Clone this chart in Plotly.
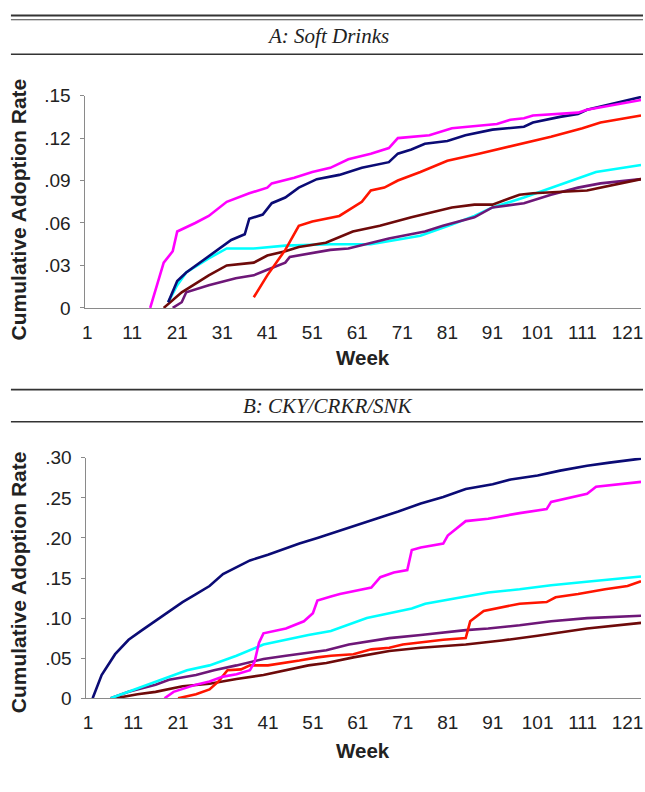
import plotly.graph_objects as go

# ---------------- Panel A: Soft Drinks ----------------
a_navy_w = [19, 21, 23, 26, 30, 33, 36, 37, 40, 42, 45, 48, 52, 57, 62, 68, 70, 73, 76, 81, 85, 91, 98, 100, 106, 110, 112, 119, 124]
a_navy_v = [0.004, 0.019, 0.025, 0.032, 0.041, 0.048, 0.052, 0.063, 0.066, 0.074, 0.078, 0.085, 0.091, 0.094, 0.099, 0.103, 0.109, 0.112, 0.116, 0.118, 0.122, 0.126, 0.128, 0.131, 0.135, 0.137, 0.140, 0.145, 0.149]

a_magenta_w = [15, 18, 20, 21, 25, 28, 32, 37, 41, 42, 47, 51, 55, 59, 64, 68, 70, 77, 82, 88, 92, 95, 98, 100, 110, 112, 119, 124]
a_magenta_v = [0.0, 0.032, 0.040, 0.054, 0.060, 0.065, 0.075, 0.081, 0.085, 0.088, 0.092, 0.096, 0.099, 0.105, 0.109, 0.113, 0.120, 0.122, 0.127, 0.129, 0.130, 0.133, 0.134, 0.136, 0.138, 0.140, 0.144, 0.147]

a_red_w = [38, 41, 45, 48, 51, 55, 57, 62, 64, 67, 70, 75, 81, 88, 97, 104, 111, 115, 124]
a_red_v = [0.0075, 0.023, 0.041, 0.058, 0.061, 0.064, 0.065, 0.075, 0.083, 0.085, 0.090, 0.096, 0.104, 0.109, 0.116, 0.121, 0.127, 0.131, 0.136]

a_cyan_w = [19, 21, 23, 28, 32, 38, 45, 55, 64, 75, 82, 87, 91, 98, 106, 114, 124]
a_cyan_v = [0.004, 0.016, 0.025, 0.035, 0.042, 0.042, 0.044, 0.045, 0.045, 0.051, 0.059, 0.065, 0.071, 0.078, 0.087, 0.096, 0.101]

a_maroon_w = [18, 22, 25, 28, 32, 37, 38, 41, 45, 48, 54, 60, 66, 73, 82, 87, 91, 97, 100, 112, 124]
a_maroon_v = [0.0, 0.011, 0.017, 0.023, 0.030, 0.032, 0.032, 0.037, 0.040, 0.043, 0.046, 0.054, 0.058, 0.064, 0.071, 0.073, 0.073, 0.080, 0.081, 0.083, 0.091]

a_purple_w = [20, 22, 23, 28, 34, 38, 41, 45, 46, 48, 55, 59, 68, 76, 80, 87, 91, 98, 104, 110, 115, 124]
a_purple_v = [0.0, 0.004, 0.011, 0.016, 0.021, 0.023, 0.027, 0.032, 0.036, 0.037, 0.041, 0.042, 0.049, 0.054, 0.058, 0.064, 0.071, 0.074, 0.080, 0.085, 0.088, 0.091]

# ---------------- Panel B: CKY/CRKR/SNK ----------------
b_navy_w = [2, 4, 7, 10, 13, 16, 19, 22, 25, 28, 31, 34, 37, 41, 45, 48, 52, 57, 60, 65, 70, 75, 80, 85, 91, 95, 101, 106, 112, 117, 124]
b_navy_v = [0.0, 0.029, 0.055, 0.073, 0.085, 0.097, 0.109, 0.120, 0.130, 0.140, 0.155, 0.164, 0.172, 0.179, 0.187, 0.193, 0.200, 0.209, 0.215, 0.224, 0.233, 0.243, 0.251, 0.261, 0.267, 0.273, 0.278, 0.284, 0.290, 0.294, 0.299]

b_magenta_w = [18, 20, 25, 28, 31, 34, 37, 38, 39, 40, 45, 49, 51, 52, 55, 57, 64, 66, 69, 72, 73, 75, 80, 81, 85, 90, 97, 103, 104, 109, 112, 114, 124]
b_magenta_v = [0.0, 0.008, 0.017, 0.021, 0.027, 0.030, 0.035, 0.045, 0.069, 0.081, 0.087, 0.096, 0.106, 0.122, 0.127, 0.130, 0.138, 0.151, 0.157, 0.160, 0.185, 0.188, 0.193, 0.203, 0.221, 0.224, 0.231, 0.236, 0.245, 0.251, 0.255, 0.264, 0.270]

b_cyan_w = [6, 12, 18, 23, 28, 34, 40, 45, 50, 55, 57, 63, 68, 73, 76, 82, 90, 97, 104, 113, 124]
b_cyan_v = [0.0, 0.012, 0.024, 0.035, 0.041, 0.053, 0.067, 0.073, 0.079, 0.084, 0.088, 0.100, 0.106, 0.112, 0.118, 0.124, 0.132, 0.136, 0.141, 0.146, 0.152]

b_red_w = [21, 25, 28, 30, 32, 35, 37, 41, 48, 52, 55, 60, 64, 68, 71, 78, 80, 85, 86, 89, 97, 103, 105, 110, 116, 121, 124]
b_red_v = [0.0, 0.005, 0.011, 0.021, 0.035, 0.036, 0.041, 0.041, 0.047, 0.051, 0.053, 0.055, 0.061, 0.063, 0.067, 0.072, 0.073, 0.075, 0.096, 0.109, 0.118, 0.120, 0.126, 0.130, 0.136, 0.140, 0.146]

b_purple_w = [6, 10, 16, 19, 25, 29, 34, 40, 45, 50, 54, 59, 68, 75, 85, 90, 97, 104, 112, 124]
b_purple_v = [0.0, 0.008, 0.017, 0.023, 0.029, 0.035, 0.041, 0.049, 0.053, 0.057, 0.060, 0.067, 0.075, 0.079, 0.085, 0.087, 0.091, 0.096, 0.100, 0.103]

b_maroon_w = [7, 12, 16, 22, 28, 34, 40, 45, 50, 54, 60, 68, 75, 85, 93, 101, 108, 112, 124]
b_maroon_v = [0.0, 0.005, 0.008, 0.015, 0.018, 0.024, 0.029, 0.035, 0.041, 0.044, 0.051, 0.059, 0.063, 0.067, 0.072, 0.078, 0.084, 0.087, 0.094]

x_tickvals = [1, 11, 21, 31, 41, 51, 61, 71, 81, 91, 101, 111, 121]
a_tickvals = [0, 0.03, 0.06, 0.09, 0.12, 0.15]
a_ticktext = ["0", ".03", ".06", ".09", ".12", ".15"]
b_tickvals = [0, 0.05, 0.10, 0.15, 0.20, 0.25, 0.30]
b_ticktext = ["0", ".05", ".10", ".15", ".20", ".25", ".30"]

title_a = "A: Soft Drinks"
title_b = "B: CKY/CRKR/SNK"
y_title = "Cumulative Adoption Rate"
x_title = "Week"

colors = {
    "navy": "#0B0B75",
    "magenta": "#FF00FF",
    "red": "#FF1500",
    "cyan": "#00FFFF",
    "maroon": "#6E0A0A",
    "purple": "#6E1778",
}

W, H = 645, 792

def px_x(x):
    return x / W

def px_y(y):
    return 1 - y / H

fig = go.Figure()

panel_a = [
    ("cyan", a_cyan_w, a_cyan_v),
    ("purple", a_purple_w, a_purple_v),
    ("maroon", a_maroon_w, a_maroon_v),
    ("red", a_red_w, a_red_v),
    ("navy", a_navy_w, a_navy_v),
    ("magenta", a_magenta_w, a_magenta_v),
]
panel_b = [
    ("maroon", b_maroon_w, b_maroon_v),
    ("purple", b_purple_w, b_purple_v),
    ("red", b_red_w, b_red_v),
    ("cyan", b_cyan_w, b_cyan_v),
    ("magenta", b_magenta_w, b_magenta_v),
    ("navy", b_navy_w, b_navy_v),
]

for name, w, v in panel_a:
    fig.add_trace(go.Scatter(x=w, y=v, mode="lines", line=dict(color=colors[name], width=2.6),
                             xaxis="x", yaxis="y", showlegend=False, hoverinfo="skip"))
for name, w, v in panel_b:
    fig.add_trace(go.Scatter(x=w, y=v, mode="lines", line=dict(color=colors[name], width=2.6),
                             xaxis="x2", yaxis="y2", showlegend=False, hoverinfo="skip"))

tick_font = dict(family="Liberation Sans, Arial, sans-serif", size=19, color="#222")
axis_common = dict(showgrid=False, zeroline=False, showline=True, linecolor="#8a8a8a", linewidth=1,
                   tickfont=tick_font, ticklabeloverflow="allow")

fig.update_layout(
    width=W, height=H,
    margin=dict(l=0, r=0, t=0, b=0),
    paper_bgcolor="white", plot_bgcolor="white",
    xaxis=dict(domain=[px_x(83), px_x(643)], range=[0.6, 124], anchor="y",
               tickvals=x_tickvals, ticks="", ticklabelstandoff=7, **axis_common),
    yaxis=dict(domain=[px_y(306), px_y(88)], range=[0, 0.15], anchor="x",
               tickvals=a_tickvals, ticktext=a_ticktext, ticks="outside", ticklen=4,
               tickcolor="#8a8a8a", ticklabelstandoff=6, **axis_common),
    xaxis2=dict(domain=[px_x(84), px_x(643)], range=[0.6, 124], anchor="y2",
                tickvals=x_tickvals, ticks="", ticklabelstandoff=7, **axis_common),
    yaxis2=dict(domain=[px_y(707), px_y(460)], range=[0, 0.30], anchor="x2",
                tickvals=b_tickvals, ticktext=b_ticktext, ticks="outside", ticklen=4,
                tickcolor="#8a8a8a", ticklabelstandoff=6, **axis_common),
)

rule = dict(type="line", xref="paper", yref="paper", x0=px_x(8), x1=1.0)
fig.update_layout(shapes=[
    dict(rule, y0=px_y(5.7), y1=px_y(5.7), line=dict(color="#333", width=2)),
    dict(rule, y0=px_y(10), y1=px_y(10), line=dict(color="#444", width=1.2)),
    dict(rule, y0=px_y(45.5), y1=px_y(45.5), line=dict(color="#333", width=1.6)),
    dict(rule, y0=px_y(390), y1=px_y(390), line=dict(color="#333", width=1.6)),
    dict(rule, y0=px_y(423), y1=px_y(423), line=dict(color="#333", width=1.6)),
])

serif_it = dict(family="Liberation Serif, Times New Roman, serif", size=21, color="#222")
bold_y = dict(family="Liberation Sans, Arial, sans-serif", size=21, color="#222")
bold_x = dict(family="Liberation Sans, Arial, sans-serif", size=20.5, color="#222")
ann = []
ann.append(dict(text="<i>" + title_a + "</i>", x=px_x(327.5), y=px_y(27), xref="paper", yref="paper",
                showarrow=False, font=serif_it, xanchor="center", yanchor="middle"))
ann.append(dict(text="<i>" + title_b + "</i>", x=px_x(327.5), y=px_y(407), xref="paper", yref="paper",
                showarrow=False, font=serif_it, xanchor="center", yanchor="middle"))
ann.append(dict(text="<b>" + y_title + "</b>", x=px_x(16), y=px_y(205), xref="paper", yref="paper",
                showarrow=False, font=bold_y, textangle=-90, xanchor="center", yanchor="middle"))
ann.append(dict(text="<b>" + y_title + "</b>", x=px_x(16), y=px_y(588), xref="paper", yref="paper",
                showarrow=False, font=bold_y, textangle=-90, xanchor="center", yanchor="middle"))
ann.append(dict(text="<b>" + x_title + "</b>", x=px_x(363), y=px_y(357), xref="paper", yref="paper",
                showarrow=False, font=bold_x, xanchor="center", yanchor="middle"))
ann.append(dict(text="<b>" + x_title + "</b>", x=px_x(363), y=px_y(761), xref="paper", yref="paper",
                showarrow=False, font=bold_x, xanchor="center", yanchor="middle"))
fig.update_layout(annotations=ann)

page_css = "});document.body.style.margin='0';document.body.style.overflow='hidden';(function(){"
fig.write_html("out.html", config={"displayModeBar": False}, post_script=page_css)
